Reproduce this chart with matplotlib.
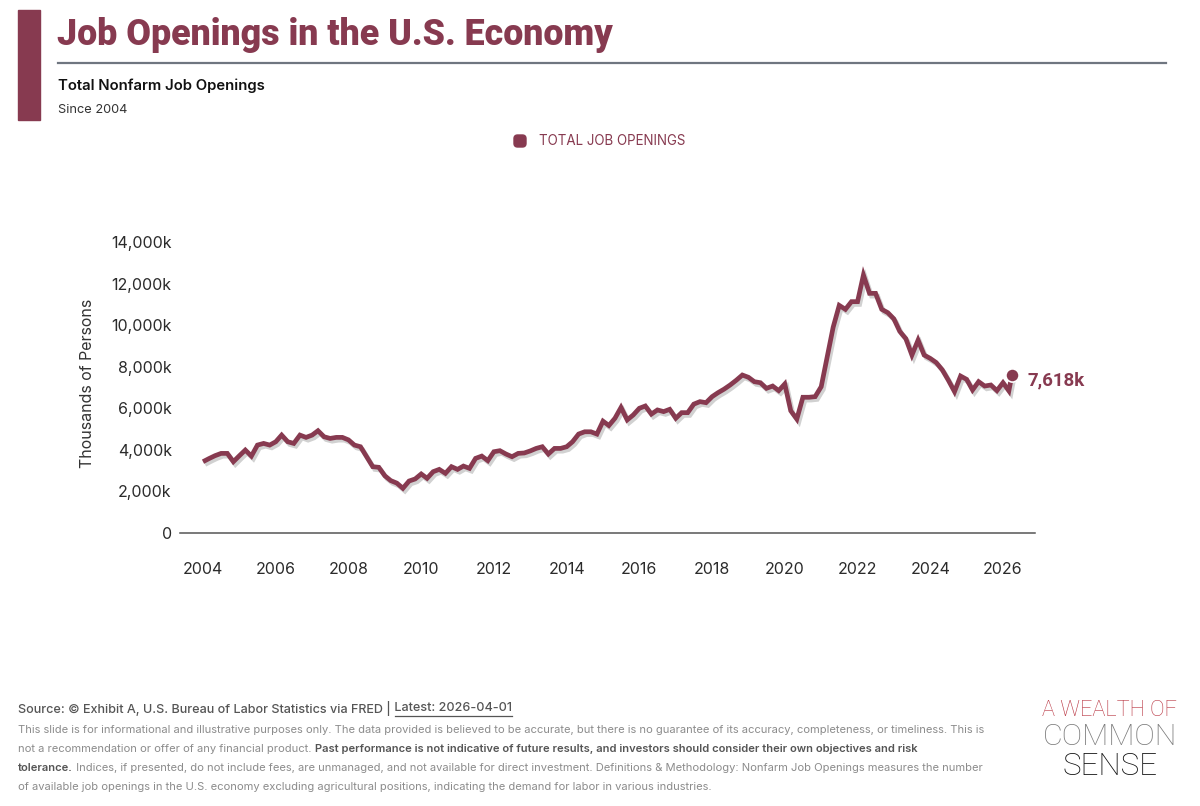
import matplotlib
matplotlib.use("Agg")
import matplotlib.pyplot as plt
import matplotlib.patheffects as pe
import matplotlib.dates as mdates
from matplotlib.patches import Rectangle, FancyBboxPatch
from matplotlib.lines import Line2D
from matplotlib.ticker import FuncFormatter
import pandas as pd

# ---------------- data (thousands of persons, bimonthly + latest) ----------------
openings = [
    3430, 3580, 3720, 3830, 3830, 3430,      # 2004
    3720, 3990, 3700, 4230, 4310, 4230,      # 2005
    4390, 4710, 4390, 4310, 4710, 4600,      # 2006
    4710, 4920, 4630, 4550, 4600, 4600,      # 2007
    4480, 4230, 4150, 3670, 3190, 3160,      # 2008
    2750, 2520, 2400, 2150, 2500, 2600,      # 2009
    2840, 2630, 2950, 3060, 2870, 3190,      # 2010
    3060, 3220, 3110, 3590, 3700, 3480,      # 2011
    3910, 3960, 3800, 3670, 3830, 3850,      # 2012
    3950, 4070, 4150, 3800, 4070, 4070,      # 2013
    4150, 4390, 4760, 4870, 4870, 4760,      # 2014
    5380, 5170, 5520, 6040, 5440, 5680,      # 2015
    6000, 6110, 5720, 5920, 5840, 5950,      # 2016
    5520, 5790, 5790, 6200, 6320, 6270,      # 2017
    6560, 6750, 6920, 7120, 7350, 7600,      # 2018
    7490, 7280, 7230, 6960, 7070, 6850,      # 2019
    7170, 5880, 5480, 6530, 6530, 6560,      # 2020
    7040, 8450, 9900, 10950, 10760, 11130,   # 2021
    11130, 12410, 11530, 11530, 10760, 10600,  # 2022
    10300, 9700, 9350, 8560, 9280, 8560,     # 2023
    8400, 8200, 7850, 7350, 6800, 7550,      # 2024
    7390, 6880, 7280, 7070, 7120, 6850,      # 2025
    7230, 6840,                              # 2026 Jan, Mar
    7618,                                    # 2026 Apr (latest)
]
dates = list(pd.date_range("2004-01-01", "2026-03-01", freq="2MS").to_pydatetime()) + \
        [pd.Timestamp("2026-04-01").to_pydatetime()]

x_tick_years = list(range(2004, 2027, 2))
y_ticks = [0, 2000, 4000, 6000, 8000, 10000, 12000, 14000]

title = "Job Openings in the U.S. Economy"
subtitle = "Total Nonfarm Job Openings"
subsub = "Since 2004"
legend_label = "TOTAL JOB OPENINGS"
y_label = "Thousands of Persons"

# ---------------- style ----------------
W, H, DPI = 1200, 806, 100
MAROON = "#873a50"
FONT = ["Inter", "Roboto", "DejaVu Sans"]
BOLDFONT = ["Roboto", "Inter", "DejaVu Sans"]
LOGOFONT = ["Roboto", "DejaVu Sans"]

plt.rcParams["font.family"] = FONT

fig = plt.figure(figsize=(W / DPI, H / DPI), dpi=DPI)
fig.patch.set_facecolor("white")


def fx(x):
    return x / W


def fy(y):
    return 1 - y / H


# ---------------- axes ----------------
ax = fig.add_axes([fx(180), fy(533), (1035 - 180) / W, (533 - 242) / H])
x04 = mdates.date2num(pd.Timestamp("2004-01-01"))
x26 = mdates.date2num(pd.Timestamp("2026-01-01"))
ppd = (1003 - 203) / (x26 - x04)
ax.set_xlim(x04 - (203 - 180) / ppd, x04 + (1035 - 203) / ppd)
ax.set_ylim(0, 14000)

ax.plot(dates, openings, color=MAROON, lw=3.4, solid_joinstyle="miter",
        solid_capstyle="butt", clip_on=False, zorder=3,
        path_effects=[pe.SimpleLineShadow(offset=(1.5, -2), shadow_color="black", alpha=0.18),
                      pe.Normal()])
ax.plot([dates[-1]], [openings[-1]], "o", ms=9.5, color=MAROON, mec="white", mew=1.2,
        clip_on=False, zorder=4)
ax.annotate(f"{openings[-1]:,}k", xy=(dates[-1], openings[-1]), xytext=(11, -4),
            textcoords="offset points", va="center", ha="left", fontsize=13.5,
            fontweight="bold", color=MAROON, family=BOLDFONT)

for s in ["top", "right", "left"]:
    ax.spines[s].set_visible(False)
ax.spines["bottom"].set_color("#555555")
ax.spines["bottom"].set_linewidth(1.1)

ax.set_xticks([mdates.date2num(pd.Timestamp(f"{y}-01-01")) for y in x_tick_years])
ax.set_xticklabels([str(y) for y in x_tick_years])
ax.set_yticks(y_ticks)
ax.yaxis.set_major_formatter(FuncFormatter(lambda v, p: "0" if v == 0 else f"{v:,.0f}k"))
ax.tick_params(axis="both", length=0, labelsize=11.5, labelcolor="#2b2b2b")
ax.tick_params(axis="x", pad=21)
ax.tick_params(axis="y", pad=6)

fig.text(fx(88), fy(383), y_label, rotation=90, ha="center", va="center",
         fontsize=11.5, color="#333333")

# ---------------- header ----------------
fig.patches.append(Rectangle((fx(18), fy(120)), (40 - 18) / W, (120 - 10) / H,
                             transform=fig.transFigure, color=MAROON, zorder=1))
fig.add_artist(Line2D([fx(58), fx(1166)], [fy(63), fy(63)], color="#6f7680", lw=1.6,
                      transform=fig.transFigure))

to_fit = []
t_title = fig.text(fx(57), fy(35), title, fontsize=27, fontweight="heavy", color=MAROON,
                   va="center", ha="left", family=BOLDFONT)
to_fit.append((t_title, 556))
t_sub = fig.text(fx(58), fy(86), subtitle, fontsize=11, fontweight="semibold", color="#111111",
                 va="center", ha="left")
to_fit.append((t_sub, 207))
t_ss = fig.text(fx(58), fy(110), subsub, fontsize=10, color="#333333", va="center", ha="left")
to_fit.append((t_ss, 70))

# legend
fig.patches.append(FancyBboxPatch((fx(514), fy(147)), 12 / W, 12 / H,
                                  boxstyle="round,pad=0,rounding_size=0.003",
                                  transform=fig.transFigure, color=MAROON, mutation_aspect=W / H))
t_leg = fig.text(fx(539), fy(141), legend_label, fontsize=9.5, color=MAROON, va="center", ha="left")
to_fit.append((t_leg, 147))

# logo
t_l1 = fig.text(fx(1110), fy(716), "A WEALTH OF", fontsize=14, fontweight="light",
                color="#b8323f", va="baseline", ha="center", family=LOGOFONT)
to_fit.append((t_l1, 135))
t_l2 = fig.text(fx(1110), fy(745), "COMMON", fontsize=22, fontweight="light",
                color="#7a7a7a", va="baseline", ha="center", family=LOGOFONT)
to_fit.append((t_l2, 134))
t_l3 = fig.text(fx(1110), fy(775), "SENSE", fontsize=22, fontweight="light",
                color="#111111", va="baseline", ha="center", family=LOGOFONT)
to_fit.append((t_l3, 95))

fig.canvas.draw()
R = fig.canvas.get_renderer()
for t, target in to_fit:
    w = t.get_window_extent(R).width
    t.set_fontsize(t.get_fontsize() * target / w)

# ---------------- footer (segmented lines) ----------------
REG, DARK = "#8c8c8c", "#555555"


def build_line(x, y, segs, fs, family):
    cur = x
    objs = []
    for s, weight, color in segs:
        t = fig.text(fx(cur), fy(y), s, fontsize=fs, fontweight=weight, color=color,
                     family=family, va="center", ha="left")
        w = t.get_window_extent(R).width
        objs.append((t, cur, w))
        cur += w
    return cur - x, objs


def fitted_line(x, y, segs, target, family, fs=None):
    if fs is None:
        w, objs = build_line(x, y, segs, 10, family)
        for t, _, _ in objs:
            t.remove()
        fs = 10 * target / w
    w, objs = build_line(x, y, segs, fs, family)
    return fs, objs


src_segs = [("Source: © Exhibit A, U.S. Bureau of Labor Statistics via FRED |", "medium", DARK),
            (" Latest: 2026-04-01", "medium", DARK)]
_, src_objs = fitted_line(18, 708, src_segs, 494, FONT)
t_last, x_last, w_last = src_objs[-1]
fig.add_artist(Line2D([fx(x_last + 4), fx(x_last + w_last)], [fy(716), fy(716)],
                      color=DARK, lw=0.9, transform=fig.transFigure))

lines = [
    [("This slide is for informational and illustrative purposes only. The data provided is "
      "believed to be accurate, but there is no guarantee of its accuracy, completeness, or "
      "timeliness. This is", "normal", REG)],
    [("not a recommendation or offer of any financial product.", "normal", REG),
     (" Past performance is not indicative of future results, and investors should consider "
      "their own objectives and risk", "semibold", DARK)],
    [("tolerance.", "semibold", DARK),
     (" Indices, if presented, do not include fees, are unmanaged, and not available for direct "
      "investment. Definitions & Methodology: Nonfarm Job Openings measures the number", "normal", REG)],
    [("of available job openings in the U.S. economy excluding agricultural positions, indicating "
      "the demand for labor in various industries.", "normal", REG)],
]
fs_disc, _ = fitted_line(18, 730, lines[0], 973, FONT)
for i, segs in enumerate(lines[1:], start=1):
    fitted_line(18, 730 + 19 * i, segs, None, FONT, fs=fs_disc)

fig.savefig("out.png", dpi=DPI, facecolor="white")
